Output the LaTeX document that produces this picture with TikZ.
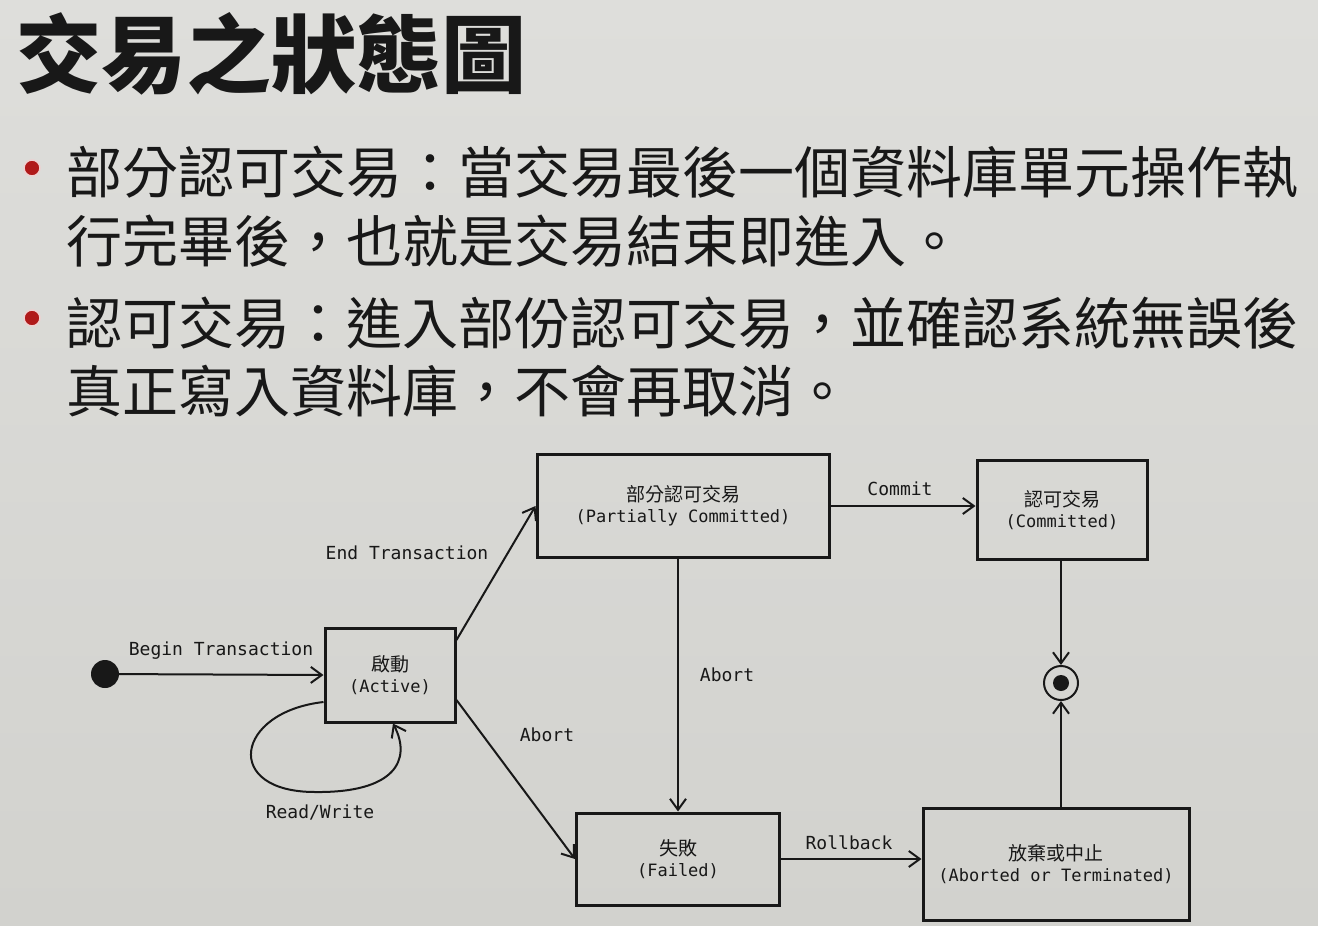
\documentclass[tikz,border=0pt]{standalone}
\usepackage{fontspec}
\newfontfamily\cjk{Noto Sans CJK TC}
\newfontfamily\mono{DejaVu Sans Mono}
\usetikzlibrary{arrows.meta}
\definecolor{bgtop}{RGB}{222,222,219}
\definecolor{bgbot}{RGB}{210,210,206}
\definecolor{bulletred}{RGB}{176,26,26}
\definecolor{ink}{RGB}{24,24,24}
\tikzset{
  statebox/.style={draw=ink, line width=3pt, inner sep=0pt, align=center, text=ink,
    font=\fontsize{18}{22}\selectfont},
  arr/.style={draw=ink, line width=2pt, -{Straight Barb[length=11pt,width=16pt,line width=2pt]}},
  lbl/.style={text=ink, inner sep=0pt, font=\mono\fontsize{18}{20}\selectfont},
  bodytext/.style={anchor=west, inner sep=0pt, text=ink, font=\cjk\fontsize{56}{60}\selectfont},
  bulletdot/.style={circle, fill=bulletred, draw=white!80!bulletred, line width=1.5pt, minimum size=16pt, inner sep=0pt}
}
\begin{document}
\begin{tikzpicture}[x=1pt,y=-1pt]
\shade[top color=bgtop, bottom color=bgbot] (0,0) rectangle (1318,926);
\useasboundingbox (0,0) rectangle (1318,926);

% title
\node[anchor=west, inner sep=0pt, text=ink, font=\cjk\bfseries\fontsize{85}{90}\selectfont] (title) at (16,54) {交易之狀態圖};

% bullets
\node[bulletdot] (b1) at (32,168) {};
\node[bodytext] (t1a) at (66,172) {部分認可交易：當交易最後一個資料庫單元操作執};
\node[bodytext] (t1b) at (66,241) {行完畢後，也就是交易結束即進入。};
\node[bulletdot] (b2) at (32,318) {};
\node[bodytext] (t2a) at (66,323) {認可交易：進入部份認可交易，並確認系統無誤後};
\node[bodytext] (t2b) at (66,391) {真正寫入資料庫，不會再取消。};

% states
\node[circle, fill=ink, minimum size=28pt, inner sep=0pt] (init) at (105,674) {};
\node[statebox, minimum width=130pt, minimum height=94pt] (act) at (390,675)
  {{\cjk\fontsize{19}{22}\selectfont 啟動}\\[-1pt]{\mono\fontsize{17}{20}\selectfont (Active)}};
\node[statebox, minimum width=292pt, minimum height=103pt] (part) at (683,506)
  {{\cjk\fontsize{19}{22}\selectfont 部分認可交易}\\[-1pt]{\mono\fontsize{17}{20}\selectfont (Partially Committed)}};
\node[statebox, minimum width=170pt, minimum height=99pt] (comm) at (1062,510)
  {{\cjk\fontsize{19}{22}\selectfont 認可交易}\\[-1pt]{\mono\fontsize{17}{20}\selectfont (Committed)}};
\node[statebox, minimum width=203pt, minimum height=92pt] (fail) at (678,859)
  {{\cjk\fontsize{19}{22}\selectfont 失敗}\\[-1pt]{\mono\fontsize{17}{20}\selectfont (Failed)}};
\node[statebox, minimum width=266pt, minimum height=112pt] (abrt) at (1056,864)
  {{\cjk\fontsize{19}{22}\selectfont 放棄或中止}\\[-1pt]{\mono\fontsize{17}{20}\selectfont (Aborted or Terminated)}};
\node[circle, draw=ink, line width=2pt, minimum size=34pt, inner sep=0pt] (fin) at (1061,683) {};
\fill[ink] (fin.center) circle (8pt);

% transitions
\draw[arr] (init) -- (act.west);
\draw[arr] ([yshift=35pt]act.east) -- (part.west);
\draw[arr] ([yshift=-25pt]act.east) -- (fail.west);
\draw[arr] ([yshift=-27pt]act.west) .. controls (235,712) and (222,792) .. (315,792)
  .. controls (395,793) and (412,760) .. ([xshift=3pt]act.south);
\draw[arr] (part.south -| fail.north) -- (fail.north);
\draw[arr] (part.east) -- (part.east -| comm.west);
\draw[arr] (comm.south -| fin) -- (fin.north);
\draw[arr] (abrt.north -| fin) -- (fin.south);
\draw[arr] (fail.east) -- (fail.east -| abrt.west);

% labels
\node[lbl] (lbegin) at (221,651) {Begin Transaction};
\node[lbl] (lend) at (407,553) {End Transaction};
\node[lbl] (labort1) at (547,735) {Abort};
\node[lbl] (lrw) at (320,812) {Read/Write};
\node[lbl] (labort2) at (727,675) {Abort};
\node[lbl] (lcommit) at (900,489) {Commit};
\node[lbl] (lroll) at (849,843) {Rollback};
\end{tikzpicture}
\end{document}
